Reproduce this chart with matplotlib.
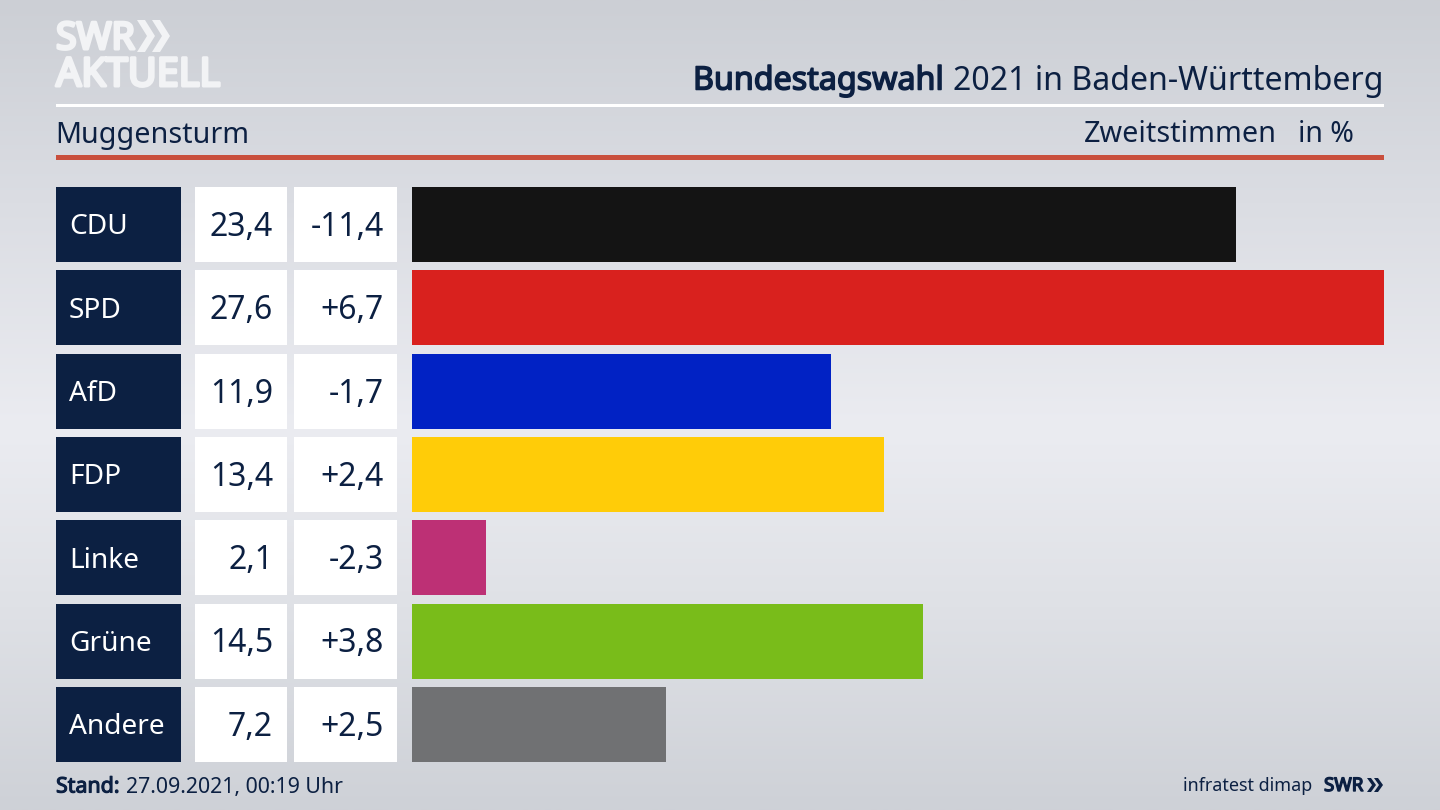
import numpy as np
import matplotlib
matplotlib.use('Agg')
import matplotlib.pyplot as plt
import matplotlib.patheffects as pe
from matplotlib.patches import Rectangle, Polygon

plt.rcParams['font.family'] = ['Noto Sans', 'DejaVu Sans']

parties = ['CDU', 'SPD', 'AfD', 'FDP', 'Linke', 'Grüne', 'Andere']
shares = [23.4, 27.6, 11.9, 13.4, 2.1, 14.5, 7.2]
changes = ['-11,4', '+6,7', '-1,7', '+2,4', '-2,3', '+3,8', '+2,5']
colors = ['#141414', '#d9211e', '#0122c4', '#ffcc08', '#bd3075', '#79bc1a', '#707173']

NAVY = '#0c2042'
LOGO = '#f2f3f5'

fig = plt.figure(figsize=(14.4, 8.1), dpi=100)

# whole picture in pixels, y pointing down
bg = fig.add_axes([0, 0, 1, 1])
bg.set_xlim(0, 1440)
bg.set_ylim(810, 0)
bg.axis('off')

ramp = np.array([0.0, 0.25, 0.53, 0.75, 1.0])
stops = np.array([[204, 207, 213], [219, 221, 227], [235, 236, 241], [223, 225, 230], [206, 209, 215]]) / 255
yy = np.linspace(0, 1, 400)
grad = np.stack([np.interp(yy, ramp, stops[:, i]) for i in range(3)], axis=1)[:, None, :]
bg.imshow(grad, extent=(0, 1440, 810, 0), aspect='auto', zorder=0)


def heavy(txt, width, color):
    # the installed Noto Sans has no bold cut, so thicken the outline
    txt.set_path_effects([pe.withStroke(linewidth=width, foreground=color)])
    return txt


def chevrons(xs, top, bottom, wide, notch, color):
    mid = (top + bottom) / 2
    for x0 in xs:
        bg.add_patch(Polygon([(x0, top), (x0 + wide - notch, top), (x0 + wide, mid),
                              (x0 + wide - notch, bottom), (x0, bottom), (x0 + notch, mid)],
                             closed=True, facecolor=color, linewidth=0, zorder=2))


# logo
heavy(bg.text(56, 39, 'SWR', color=LOGO, fontsize=27, va='center', ha='left'), 2.2, LOGO)
chevrons([137, 152], 20, 52, 18, 10, LOGO)
heavy(bg.text(56, 76, 'AKTUELL', color=LOGO, fontsize=28.5, va='center', ha='left'), 2.2, LOGO)

# title
heavy(bg.text(944, 81, 'Bundestagswahl', color=NAVY, fontsize=23.2, va='center', ha='right'), 1.1, NAVY)
bg.text(953, 81, '2021 in Baden-Württemberg', color=NAVY, fontsize=23.1, va='center', ha='left')

bg.add_patch(Rectangle((56, 104), 1328, 3, facecolor='white', linewidth=0, zorder=2))
bg.text(55, 135, 'Muggensturm', color=NAVY, fontsize=20.7, va='center', ha='left')
bg.text(1277, 135, 'Zweitstimmen', color=NAVY, fontsize=20.7, va='center', ha='right')
bg.text(1354, 135, 'in %', color=NAVY, fontsize=20.5, va='center', ha='right')
bg.add_patch(Rectangle((56, 155), 1328, 5, facecolor='#c94f3d', linewidth=0, zorder=2))

# table cells left of the bars
row_top = 187
row_step = 83.3
row_h = 75
for i, party in enumerate(parties):
    y = row_top + i * row_step
    mid = y + row_h / 2
    bg.add_patch(Rectangle((56, y), 125, row_h, facecolor=NAVY, linewidth=0, zorder=2))
    bg.add_patch(Rectangle((195, y), 92, row_h, facecolor='white', linewidth=0, zorder=2))
    bg.add_patch(Rectangle((294, y), 103, row_h, facecolor='white', linewidth=0, zorder=2))
    bg.text(69, mid + 3, party, color='white', fontsize=20.2, va='center', ha='left', zorder=3)
    bg.text(273, mid + 3, ('%.1f' % shares[i]).replace('.', ','), color=NAVY, fontsize=23, va='center', ha='right', zorder=3)
    bg.text(383.5, mid + 3, changes[i], color=NAVY, fontsize=23, va='center', ha='right', zorder=3)

# footer
heavy(bg.text(56, 787, 'Stand:', color=NAVY, fontsize=15.4, va='center', ha='left'), 0.8, NAVY)
bg.text(126, 787, '27.09.2021, 00:19 Uhr', color=NAVY, fontsize=15.35, va='center', ha='left')
bg.text(1312, 786, 'infratest dimap', color=NAVY, fontsize=12.9, va='center', ha='right')
heavy(bg.text(1324, 786, 'SWR', color=NAVY, fontsize=13.5, va='center', ha='left'), 1.0, NAVY)
chevrons([1367, 1374], 778, 792, 9, 5, NAVY)

# bars, top row to bottom row
top_px = row_top - (row_step - row_h) / 2
bot_px = top_px + row_step * len(parties)
ax = fig.add_axes([412 / 1440, 1 - bot_px / 810, (1384 - 412) / 1440, (bot_px - top_px) / 810])
ax.patch.set_alpha(0)
ax.barh(range(len(parties)), shares, height=row_h / row_step, color=colors)
ax.set_xlim(0, max(shares))
ax.set_ylim(len(parties) - 0.5, -0.5)
ax.axis('off')

fig.savefig('out.png', dpi=100)
